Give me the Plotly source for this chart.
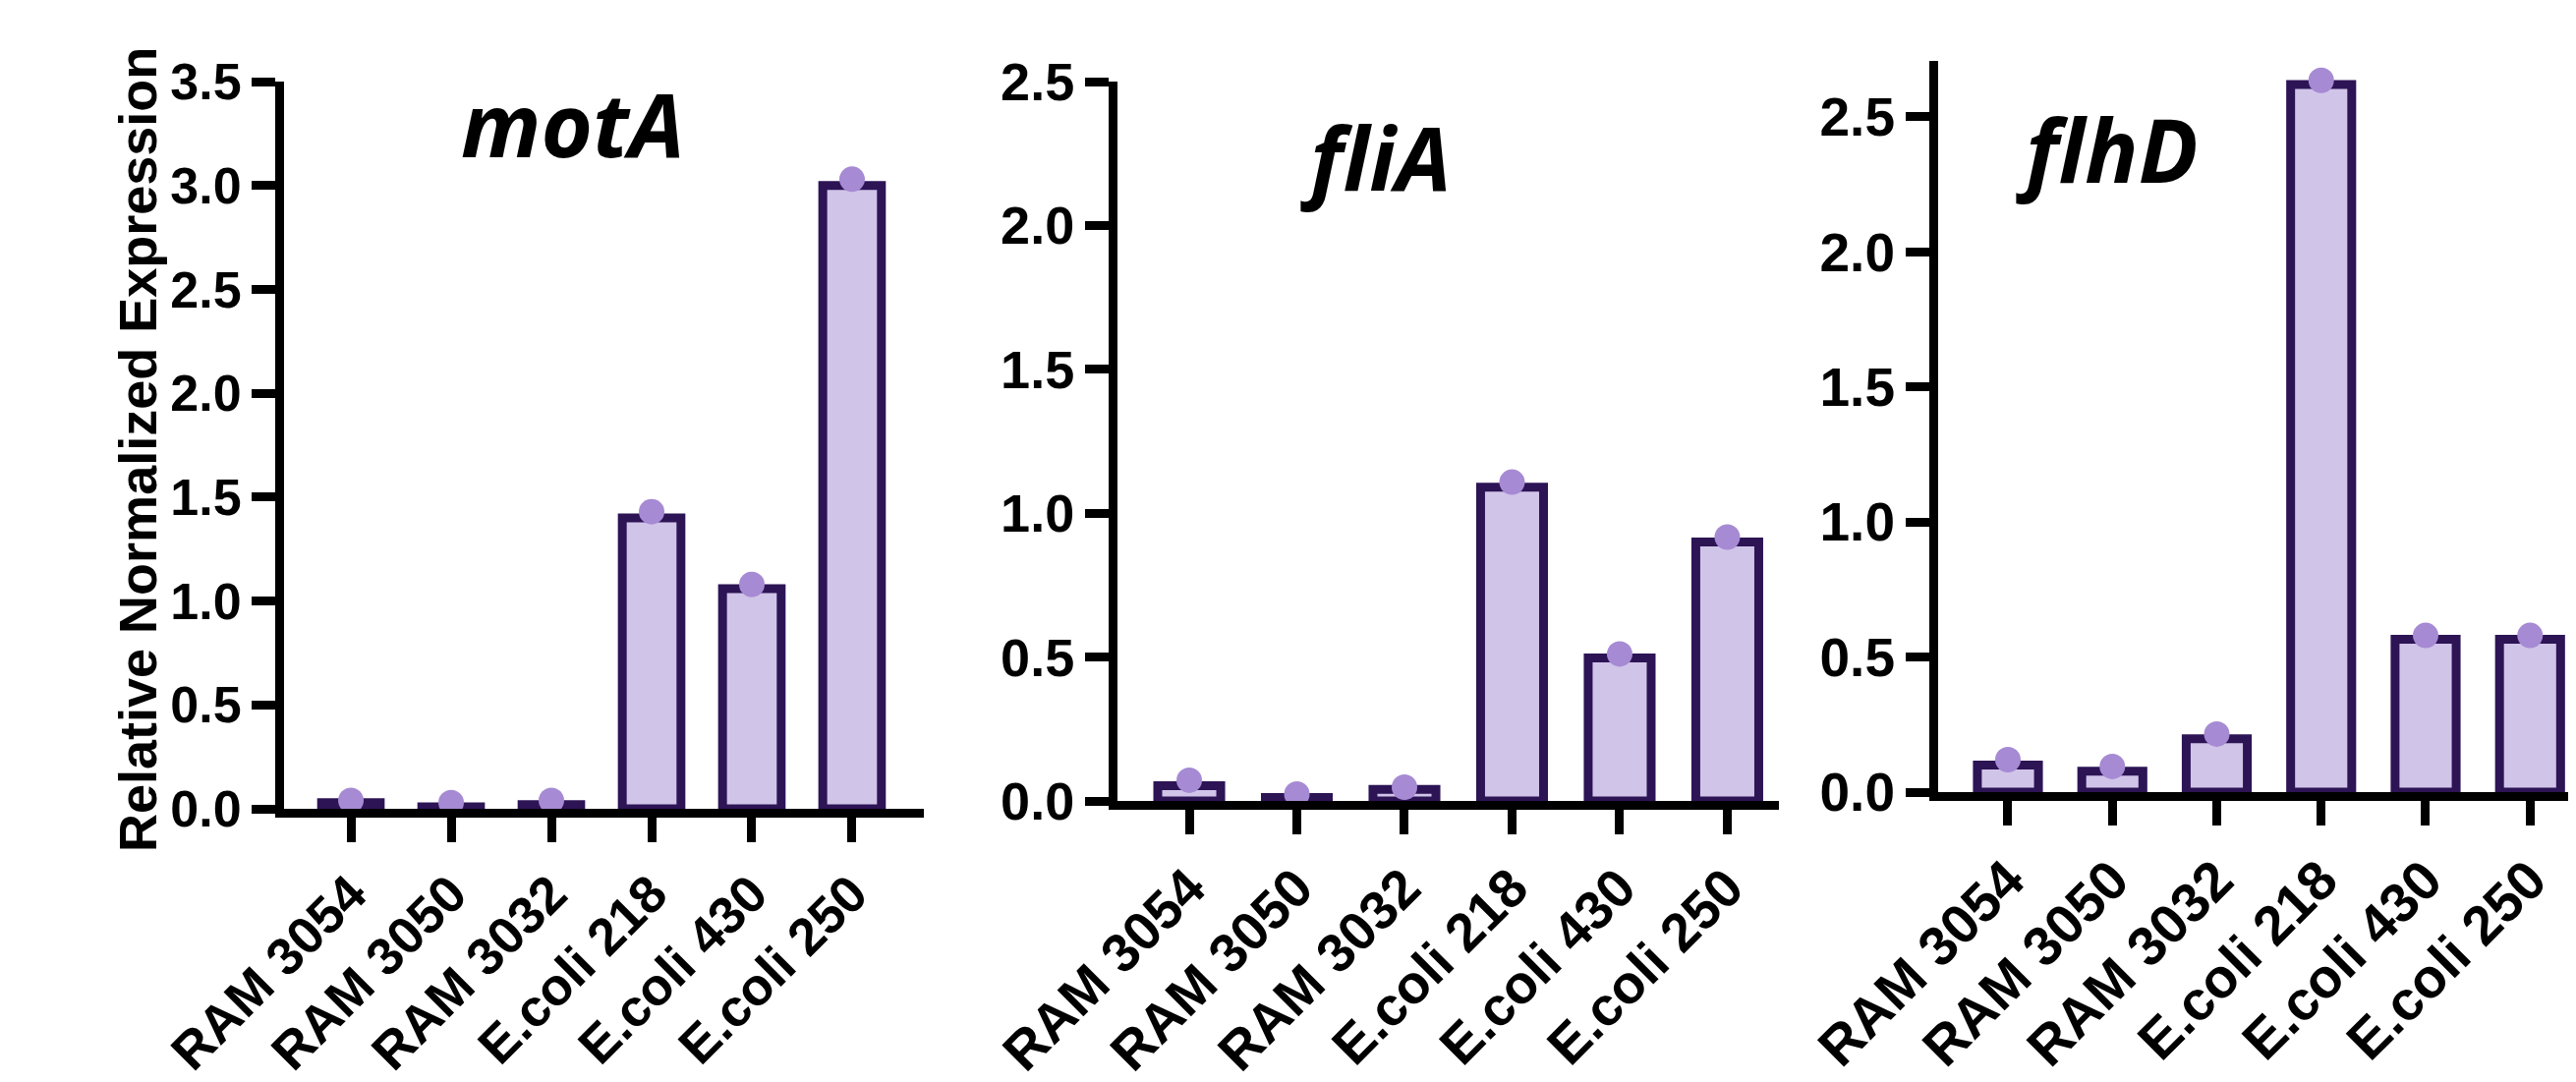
import plotly.graph_objects as go

# page body has an 8px default margin, so the figure is sized to fit the window
OFF = 8
W, H = 2621 - OFF, 1101 - OFF

categories = ["RAM 3054", "RAM 3050", "RAM 3032", "E.coli 218", "E.coli 430", "E.coli 250"]

motA_bars = [0.03, 0.01, 0.02, 1.40, 1.06, 3.00]
motA_points = [0.04, 0.03, 0.04, 1.43, 1.08, 3.03]

fliA_bars = [0.053, 0.012, 0.04, 1.09, 0.497, 0.90]
fliA_points = [0.072, 0.024, 0.048, 1.108, 0.511, 0.917]

flhD_bars = [0.10, 0.077, 0.197, 2.62, 0.566, 0.566]
flhD_points = [0.12, 0.095, 0.215, 2.635, 0.58, 0.58]

titles = ["motA", "fliA", "flhD"]
y_ticks = [0.0, 0.5, 1.0, 1.5, 2.0, 2.5, 3.0, 3.5]

FILL = "#D0C4E8"
EDGE = "#2D1455"
DOT = "#A68AD3"
FONT = "Liberation Sans, Arial, sans-serif"
TFONT = "Open Sans, Noto Sans, sans-serif"


def px(x):
    return (x - OFF) / W


def py(y):
    return 1 - (y - OFF) / H


panels = [
    dict(left=289, right=940, bottom=823, top=83, xr=[-0.667, 5.716], yr=[0, 3.5], yt=y_ticks[:8], fs=53),
    dict(left=1137, right=1810, bottom=815, top=83, xr=[-0.667, 5.48], yr=[0, 2.5], yt=y_ticks[:6], fs=55),
    dict(left=1972, right=2621, bottom=806, top=62, xr=[-0.668, 5.44], yr=[0, 2.707], yt=y_ticks[:6], fs=56),
]
series = [(motA_bars, motA_points), (fliA_bars, fliA_points), (flhD_bars, flhD_points)]

fig = go.Figure()
for i, (p, (bars, pts)) in enumerate(zip(panels, series)):
    xa = "x" if i == 0 else f"x{i+1}"
    ya = "y" if i == 0 else f"y{i+1}"
    fig.add_trace(go.Bar(
        x=categories, y=bars, xaxis=xa, yaxis=ya, width=0.585,
        marker=dict(color=FILL, line=dict(color=EDGE, width=9)),
        showlegend=False, hoverinfo="skip",
    ))
    fig.add_trace(go.Scatter(
        x=categories, y=pts, xaxis=xa, yaxis=ya, mode="markers",
        marker=dict(color=DOT, size=26, line=dict(width=0)),
        cliponaxis=False, showlegend=False,
    ))
    xkey = "xaxis" if i == 0 else f"xaxis{i+1}"
    ykey = "yaxis" if i == 0 else f"yaxis{i+1}"
    fig.update_layout(**{
        xkey: dict(
            domain=[px(p["left"]), min(px(p["right"]), 1.0)],
            anchor=ya, range=p["xr"], type="category", automargin=False,
            showline=True, linecolor="black", linewidth=9,
            ticks="outside", ticklen=25, tickwidth=9, tickcolor="black",
            tickangle=-45, showgrid=False, zeroline=False,
            tickfont=dict(family=FONT, size=p["fs"], color="black", weight="bold"),
        ),
        ykey: dict(
            domain=[py(p["bottom"]), py(p["top"])],
            anchor=xa, range=p["yr"], automargin=False,
            showline=True, linecolor="black", linewidth=9,
            ticks="outside", ticklen=24, tickwidth=9, tickcolor="black",
            tickvals=p["yt"], ticktext=[f"{v:.1f}" for v in p["yt"]],
            showgrid=False, zeroline=False,
            tickfont=dict(family=FONT, size=p["fs"] - 1, color="black", weight="bold"),
        ),
    })

TS = 90
title_pos = [(583, 170), (1400, 204), (2144, 196)]
for t, (cx, by) in zip(titles, title_pos):
    fig.add_annotation(
        text=f"<b><i>{t}</i></b>", xref="paper", yref="paper",
        x=px(cx), y=py(by + 0.2 * TS), xanchor="center", yanchor="bottom",
        showarrow=False,
        font=dict(family=TFONT, size=TS, color="black"),
    )

fig.add_annotation(
    text="<b>Relative Normalized Expression</b>", xref="paper", yref="paper",
    x=px(140), y=py(458), xanchor="center", yanchor="middle",
    textangle=-90, showarrow=False,
    font=dict(family=FONT, size=54, color="black"),
)

fig.update_layout(
    width=W, height=H, margin=dict(l=0, r=0, t=0, b=0, autoexpand=False),
    paper_bgcolor="white", plot_bgcolor="white", bargap=0.4,
)

fig.write_html("out.html")
